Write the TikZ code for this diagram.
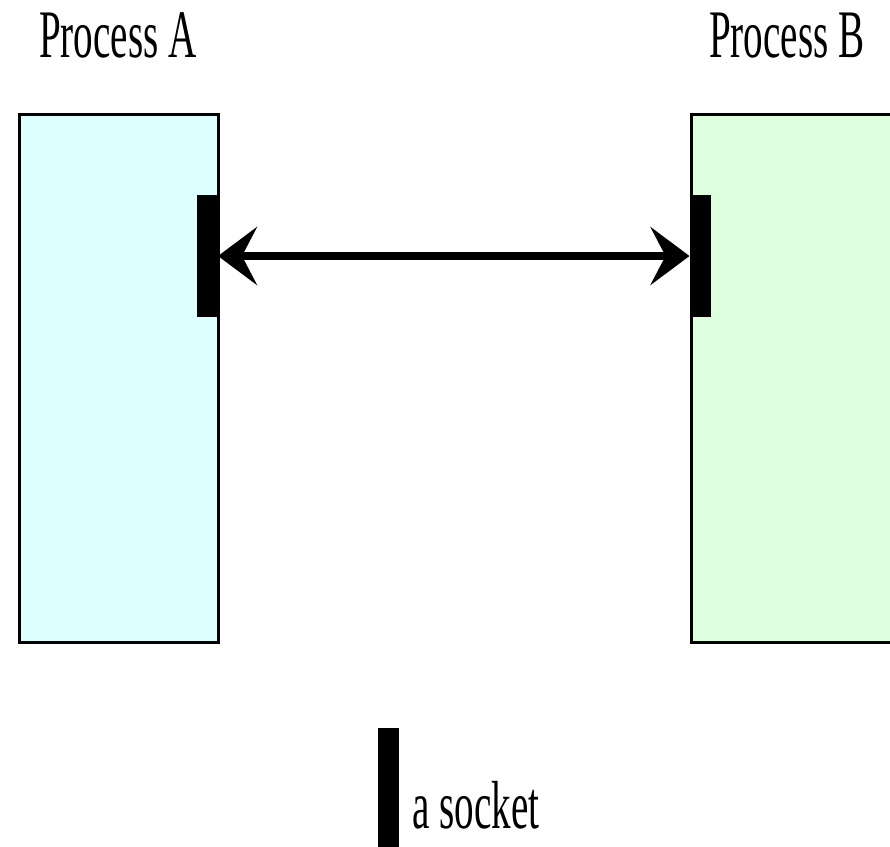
\documentclass[tikz,border=0pt]{standalone}
\usepackage{fontspec}
\setmainfont{Liberation Serif}
\usetikzlibrary{arrows.meta}
\definecolor{procAfill}{HTML}{DDFFFF}
\definecolor{procBfill}{HTML}{DDFFDD}
\newcommand{\condtext}[1]{\scalebox{0.575}[1]{\fontsize{68pt}{70pt}\selectfont #1}}
\tikzset{
  procbox/.style={draw=black, line width=3.5pt, inner sep=0pt, outer sep=0pt},
  sockbox/.style={fill=black, draw=none, inner sep=0pt, outer sep=0pt, minimum width=21pt, minimum height=122pt},
  txtlabel/.style={inner sep=0pt, anchor=base west},
  link/.style={line width=8pt, {Stealth[length=39pt,width=58pt,inset=15pt]}-{Stealth[length=39pt,width=58pt,inset=15pt]}}
}
\begin{document}
\begin{tikzpicture}[x=1pt,y=-1pt]
\useasboundingbox (0,0) rectangle (890,846);
% titles
\node[txtlabel] (titleA) at (39,57) {\condtext{Process A}};
\node[txtlabel] (titleB) at (709,57) {\condtext{Process B}};
% process boxes
\node[procbox, fill=procAfill, minimum width=199pt, minimum height=528pt] (procA) at (119,378.5) {};
\node[procbox, fill=procBfill, minimum width=202pt, minimum height=528pt] (procB) at (792.5,378.5) {};
% sockets
\node[sockbox] (sockA) at (207.5,256) {};
\node[sockbox] (sockB) at (700,256) {};
% connection
\draw[link] (sockA.east) -- (sockB.west);
% legend
\node[sockbox, minimum height=130pt, anchor=north] (legSock) at (388,728) {};
\node[txtlabel] (legText) at (412,828) {\condtext{a socket}};
\end{tikzpicture}
\end{document}
